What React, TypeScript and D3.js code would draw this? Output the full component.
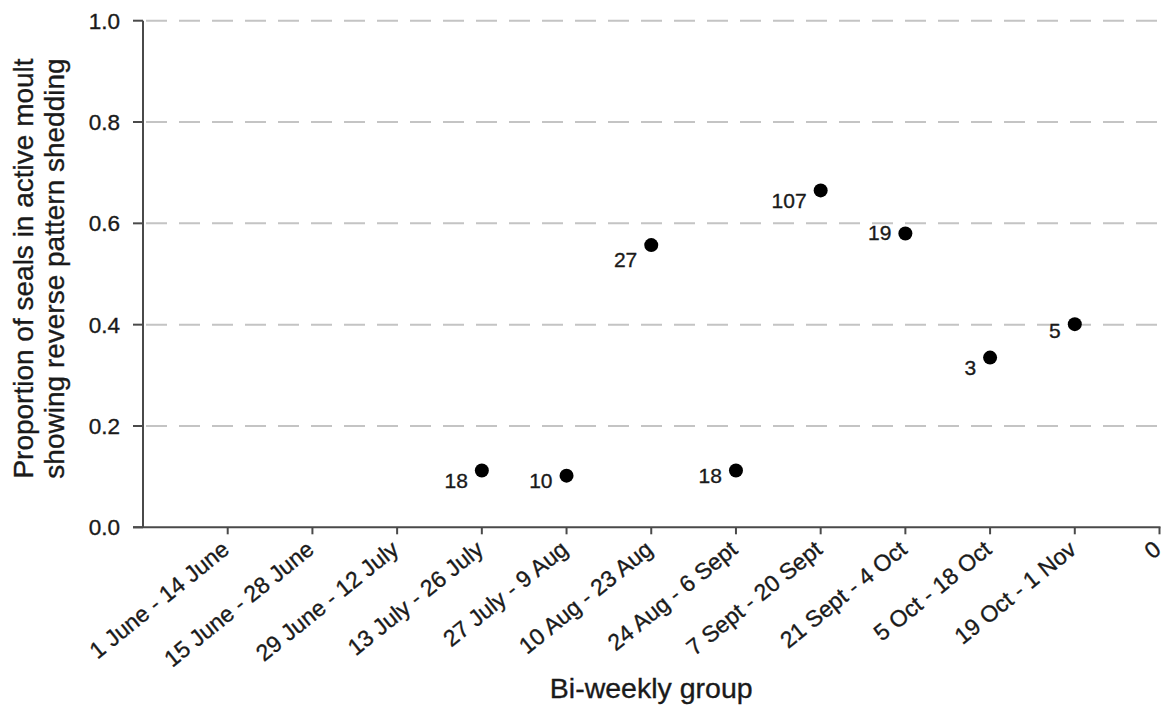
import React from "react";
import * as d3 from "d3";

const categories = [
  "1 June - 14 June",
  "15 June - 28 June",
  "29 June - 12 July",
  "13 July - 26 July",
  "27 July - 9 Aug",
  "10 Aug - 23 Aug",
  "24 Aug - 6 Sept",
  "7 Sept - 20 Sept",
  "21 Sept - 4 Oct",
  "5 Oct - 18 Oct",
  "19 Oct - 1 Nov",
  "0",
];

const pointCategories = [
  "13 July - 26 July",
  "27 July - 9 Aug",
  "10 Aug - 23 Aug",
  "24 Aug - 6 Sept",
  "7 Sept - 20 Sept",
  "21 Sept - 4 Oct",
  "5 Oct - 18 Oct",
  "19 Oct - 1 Nov",
];
const proportions = [0.112, 0.102, 0.557, 0.112, 0.665, 0.58, 0.335, 0.401];
const sampleSizes = [18, 10, 27, 18, 107, 19, 3, 5];

const yTicks = [0, 0.2, 0.4, 0.6, 0.8, 1.0];

// label placement (layout only)
const labelDy = [17, 12, 22, 12.5, 18, 7, 17, 14];

const W = 1168;
const H = 711;
const FONT = "'Liberation Sans', Arial, Helvetica, sans-serif";

export default function App() {
  const x = d3.scaleLinear().domain([0, categories.length]).range([143, 1159.5]);
  const y = d3.scaleLinear().domain([0, 1]).range([527.3, 20.7]);
  const pos = (c: string) => x(categories.indexOf(c) + 1);
  const x0 = x(0);
  const x1 = x(categories.length);
  const axisColor = "#4a4a4a";
  const textColor = "#1a1a1a";
  const textStroke = { stroke: textColor, strokeWidth: 0.35 };

  return (
    <div style={{ position: "absolute", left: 0, top: 0 }}>
      <svg width={W} height={H} style={{ display: "block", background: "#fff" }}>
        {/* grid lines */}
        {yTicks
          .filter((t) => t > 0)
          .map((t) => (
            <line
              key={"g" + t}
              x1={x0}
              x2={x1}
              y1={y(t)}
              y2={y(t)}
              stroke="#c4c4c4"
              strokeWidth={2}
              strokeDasharray="21 12"
              strokeDashoffset={-3}
            />
          ))}
        {/* y axis */}
        <line x1={x0} x2={x0} y1={y(1)} y2={y(0)} stroke={axisColor} strokeWidth={2} />
        {yTicks.map((t) => (
          <g key={"yt" + t}>
            <line x1={x0 - 10} x2={x0} y1={y(t)} y2={y(t)} stroke={axisColor} strokeWidth={2} />
            <text
              x={120}
              y={y(t)}
              dy="0.36em"
              textAnchor="end"
              fontFamily={FONT}
              fontSize={22.5}
              fill={textColor}
              {...textStroke}
            >
              {d3.format(".1f")(t)}
            </text>
          </g>
        ))}
        {/* x axis */}
        <line x1={x0 - 10} x2={x1 + 1} y1={y(0)} y2={y(0)} stroke={axisColor} strokeWidth={2} />
        {categories.map((c, i) => {
          const px = x(i + 1);
          return (
            <g key={"xt" + i}>
              <line x1={px} x2={px} y1={y(0)} y2={y(0) + 7} stroke={axisColor} strokeWidth={2} />
              <text
                transform={`translate(${px + 3},${552}) rotate(-39)`}
                textAnchor="end"
                fontFamily={FONT}
                fontSize={23}
                fill={textColor}
                {...textStroke}
              >
                {c}
              </text>
            </g>
          );
        })}
        {/* points */}
        {pointCategories.map((c, i) => {
          const px = pos(c);
          const py = y(proportions[i]);
          return (
            <g key={"p" + i}>
              <circle cx={px} cy={py} r={7} fill="#000" />
              <text
                x={px - 14}
                y={py + labelDy[i]}
                textAnchor="end"
                fontFamily={FONT}
                fontSize={21}
                fill={textColor}
                {...textStroke}
              >
                {sampleSizes[i]}
              </text>
            </g>
          );
        })}
        {/* axis titles */}
        <text
          x={(x0 + x1) / 2}
          y={698}
          textAnchor="middle"
          fontFamily={FONT}
          fontSize={28.5}
          fill={textColor}
          {...textStroke}
        >
          Bi-weekly group
        </text>
        <text
          transform={`translate(33,${268.5}) rotate(-90)`}
          textAnchor="middle"
          fontFamily={FONT}
          fontSize={28}
          fill={textColor}
          {...textStroke}
        >
          Proportion of seals in active moult
        </text>
        <text
          transform={`translate(64,${268.5}) rotate(-90)`}
          textAnchor="middle"
          fontFamily={FONT}
          fontSize={28}
          fill={textColor}
          {...textStroke}
        >
          showing reverse pattern shedding
        </text>
      </svg>
    </div>
  );
}
